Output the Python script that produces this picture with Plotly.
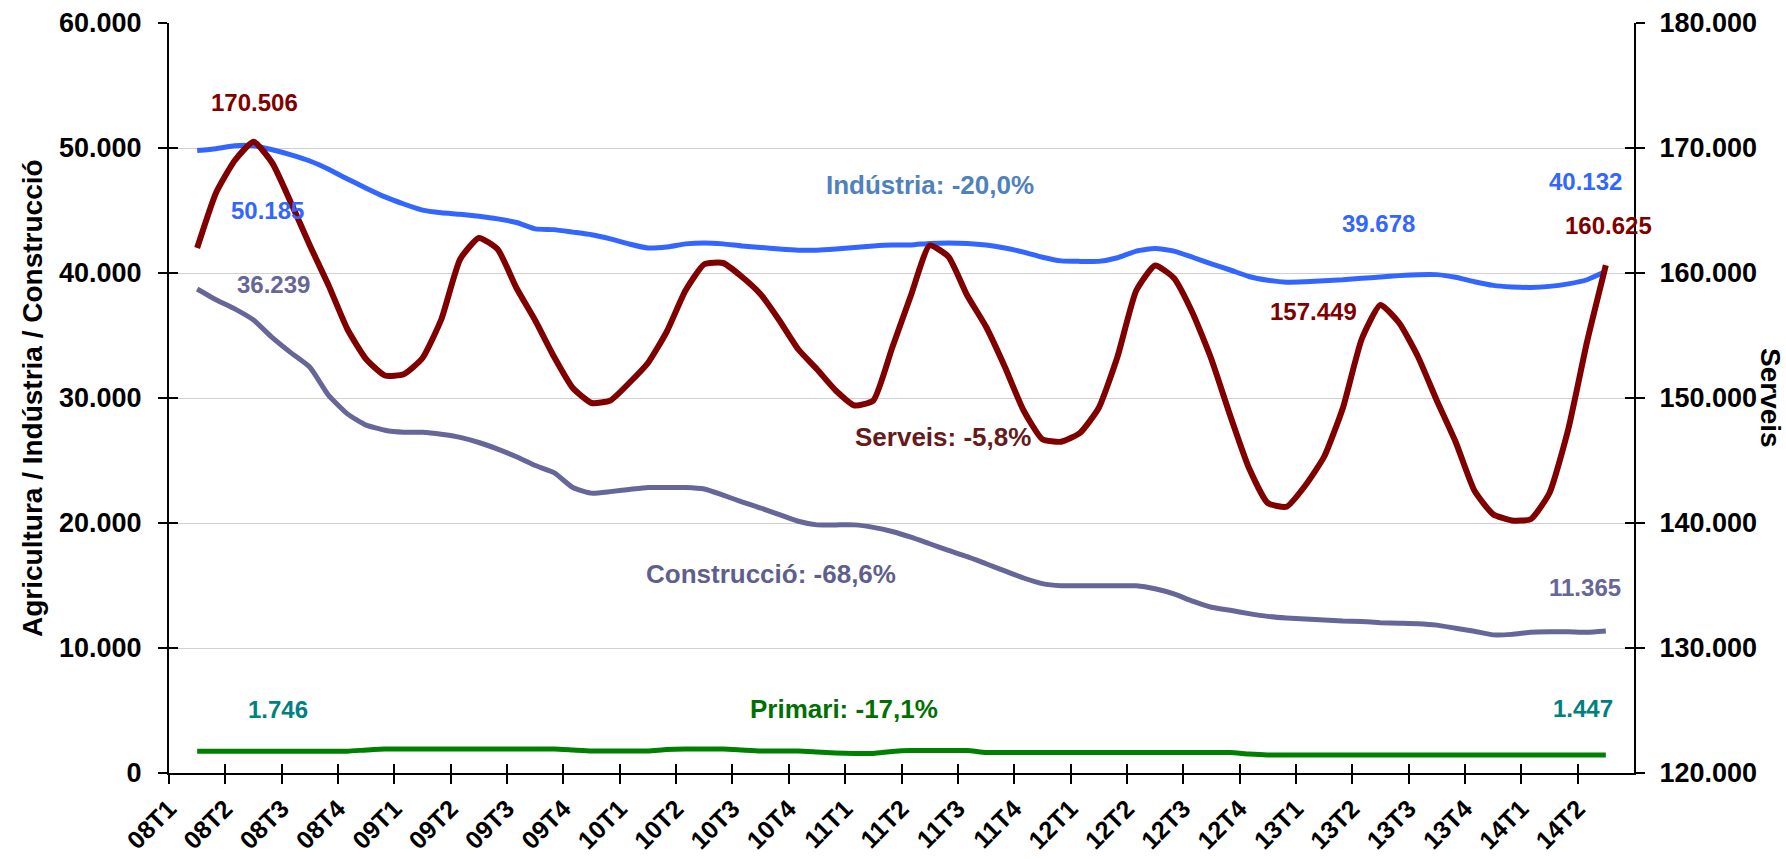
import plotly.graph_objects as go

# ---------------- data (monthly) ----------------
quarter_labels = ["08T1", "08T2", "08T3", "08T4", "09T1", "09T2", "09T3", "09T4",
                  "10T1", "10T2", "10T3", "10T4", "11T1", "11T2", "11T3", "11T4",
                  "12T1", "12T2", "12T3", "12T4", "13T1", "13T2", "13T3", "13T4",
                  "14T1", "14T2"]

serveis = [162000, 166400, 169000, 170506, 168800, 165600, 162200, 159000, 155500, 153100,
           151800, 151900, 153200, 156300, 161100, 162800, 161900, 158800, 156200, 153300,
           150800, 149600, 149800, 151200, 152800, 155300, 158600, 160700, 160800, 159700,
           158300, 156200, 153900, 152300, 150600, 149400, 149800, 154000, 158200, 162200,
           161300, 158200, 155700, 152500, 149000, 146700, 146500, 147200, 149200, 153300,
           158600, 160600, 159600, 156800, 153100, 148600, 144400, 141600, 141300, 143000,
           145300, 149200, 154700, 157449, 156000, 153300, 149800, 146500, 142600, 140700,
           140200, 140300, 142400, 147500, 154500, 160625]

industria = [49800, 49940, 50180, 50185, 49860, 49450, 48960, 48300, 47520, 46790,
             46090, 45520, 45030, 44820, 44700, 44540, 44330, 44040, 43530, 43470,
             43270, 43060, 42730, 42320, 42000, 42080, 42330, 42410, 42330, 42160,
             42040, 41920, 41830, 41830, 41920, 42040, 42160, 42240, 42240, 42370,
             42410, 42370, 42240, 42000, 41670, 41260, 40970, 40930, 40930, 41220,
             41750, 41960, 41750, 41260, 40730, 40240, 39720, 39420, 39260, 39300,
             39380, 39460, 39580, 39678, 39790, 39870, 39870, 39660, 39300, 39010,
             38890, 38850, 38930, 39130, 39460, 40132]

construccio = [38720, 37860, 37130, 36239, 34830, 33610, 32460, 30210, 28730, 27830,
               27420, 27260, 27260, 27100, 26850, 26440, 25910, 25300, 24600, 24030,
               22840, 22390, 22510, 22680, 22840, 22840, 22840, 22720, 22230, 21690,
               21200, 20670, 20140, 19850, 19850, 19850, 19650, 19320, 18870, 18340,
               17810, 17310, 16740, 16170, 15600, 15150, 14980, 14980, 14980, 14980,
               14980, 14740, 14330, 13750, 13260, 13020, 12750, 12530, 12400, 12320,
               12240, 12160, 12120, 12030, 11990, 11950, 11830, 11580, 11340, 11050,
               11090, 11260, 11300, 11300, 11260, 11365]

primari = [1746, 1746, 1746, 1746, 1746, 1746, 1746, 1746, 1746, 1840,
           1920, 1920, 1920, 1920, 1920, 1920, 1920, 1920, 1920, 1920,
           1840, 1760, 1760, 1760, 1760, 1880, 1920, 1920, 1920, 1840,
           1760, 1760, 1760, 1680, 1600, 1560, 1560, 1720, 1800, 1800,
           1800, 1800, 1640, 1640, 1640, 1640, 1640, 1640, 1640, 1640,
           1640, 1640, 1640, 1640, 1640, 1640, 1520, 1447, 1447, 1447,
           1447, 1447, 1447, 1447, 1447, 1447, 1447, 1447, 1447, 1447,
           1447, 1447, 1447, 1447, 1447, 1447]

# month slots: 3 per quarter label, points centred in their month slot
x_pos = [i + 1.5 for i in range(len(serveis))]
tick_pos = [3 * k for k in range(len(quarter_labels))]

FONT = "Liberation Sans, Arial, sans-serif"

fig = go.Figure()
line_shape = dict(shape="spline", smoothing=0.5)
fig.add_trace(go.Scatter(x=x_pos, y=primari, mode="lines", name="Primari",
                         line=dict(color="#008000", width=5, **line_shape)))
fig.add_trace(go.Scatter(x=x_pos, y=construccio, mode="lines", name="Construcció",
                         line=dict(color="#666699", width=5, **line_shape)))
fig.add_trace(go.Scatter(x=x_pos, y=industria, mode="lines", name="Indústria",
                         line=dict(color="#3366FF", width=5, **line_shape)))
fig.add_trace(go.Scatter(x=x_pos, y=serveis, mode="lines", name="Serveis", yaxis="y2",
                         line=dict(color="#800000", width=6, **line_shape)))
# helper (empty) traces so the inside-tick overlay axes get drawn
fig.add_trace(go.Scatter(x=[None], y=[None], xaxis="x2", yaxis="y3", showlegend=False,
                         hoverinfo="skip"))
fig.add_trace(go.Scatter(x=[None], y=[None], xaxis="x", yaxis="y4", showlegend=False,
                         hoverinfo="skip"))

tickfont = dict(family=FONT, size=27, color="black", weight="bold")
TL = 9

fig.update_layout(
    width=1786, height=859,
    margin=dict(l=169, r=152, t=23, b=86, autoexpand=False),
    paper_bgcolor="white", plot_bgcolor="white",
    showlegend=False,
    separators=",.",
    font=dict(family=FONT, color="black"),
    xaxis=dict(range=[0, 78], tickmode="array", tickvals=tick_pos, ticktext=quarter_labels,
               tickangle=-45, tickfont=dict(family=FONT, size=25, color="black", weight="bold"),
               ticks="outside", ticklen=TL, tickwidth=2, tickcolor="black", automargin=False,
               showline=True, linecolor="black", linewidth=2, showgrid=False, zeroline=False),
    xaxis2=dict(range=[0, 78], overlaying="x", anchor="y", side="bottom", automargin=False,
                tickmode="array", tickvals=tick_pos, showticklabels=False,
                ticks="inside", ticklen=TL, tickwidth=2, tickcolor="black",
                showline=False, showgrid=False, zeroline=False),
    yaxis=dict(range=[0, 60000], dtick=10000, tickformat=",.0f", tickfont=tickfont,
               ticks="outside", ticklen=TL, tickwidth=2, tickcolor="black",
               ticklabelstandoff=11, automargin=False,
               showline=True, linecolor="black", linewidth=2,
               showgrid=True, gridcolor="#D0D0D0", gridwidth=1, zeroline=False),
    yaxis2=dict(range=[120000, 180000], dtick=10000, tickformat=",.0f", tickfont=tickfont,
                overlaying="y", side="right", anchor="x", automargin=False,
                ticks="outside", ticklen=TL, tickwidth=2, tickcolor="black",
                ticklabelstandoff=9,
                showline=True, linecolor="black", linewidth=2,
                showgrid=False, zeroline=False),
    yaxis3=dict(range=[0, 60000], dtick=10000, overlaying="y", side="left", anchor="x2",
                showticklabels=False, ticks="inside", ticklen=TL, tickwidth=2, automargin=False,
                tickcolor="black", showline=False, showgrid=False, zeroline=False),
    yaxis4=dict(range=[120000, 180000], dtick=10000, overlaying="y", side="right", anchor="x",
                showticklabels=False, ticks="inside", ticklen=TL, tickwidth=2, automargin=False,
                tickcolor="black", showline=False, showgrid=False, zeroline=False),
)

def note(text, x, y, color, size):
    fig.add_annotation(text=text, x=x, y=y, xref="x", yref="y", showarrow=False,
                       xanchor="center", yanchor="middle",
                       font=dict(family=FONT, size=size, color=color, weight="bold"))

NUM = 24
LAB = 26
note("170.506", 4.53, 53680, "#800000", NUM)
note("50.185", 5.22, 45040, "#3366FF", NUM)
note("36.239", 5.54, 39120, "#666699", NUM)
note("1.746", 5.8, 5120, "#008080", NUM)
note("Indústria: -20,0%", 40.52, 47040, "#4F81BD", LAB)
note("Serveis: -5,8%", 41.2, 26900, "#661A1A", LAB)
note("Construcció: -68,6%", 32.06, 15900, "#5F5F8F", LAB)
note("Primari: -17,1%", 35.94, 5120, "#007000", LAB)
note("39.678", 64.38, 43960, "#3366FF", NUM)
note("157.449", 60.92, 36960, "#800000", NUM)
note("40.132", 75.4, 47360, "#3366FF", NUM)
note("160.625", 76.63, 43800, "#800000", NUM)
note("11.365", 75.4, 14880, "#666699", NUM)
note("1.447", 75.29, 5200, "#008080", NUM)

# axis titles
fig.add_annotation(text="Agricultura / Indústria / Construcció", xref="paper", yref="paper",
                   x=(32 - 169) / 1465, y=0.5, textangle=-90, showarrow=False,
                   xanchor="center", yanchor="middle",
                   font=dict(family=FONT, size=28, color="black", weight="bold"))
fig.add_annotation(text="Serveis", xref="paper", yref="paper",
                   x=(1771 - 169) / 1465, y=0.5, textangle=90, showarrow=False,
                   xanchor="center", yanchor="middle",
                   font=dict(family=FONT, size=28, color="black", weight="bold"))

# remove the browser's default 8px page margin so the figure sits at the window origin
fig.write_html("out.html",
               config={"displayModeBar": False},
               post_script="document.body.style.margin='0';document.body.style.padding='0';")
